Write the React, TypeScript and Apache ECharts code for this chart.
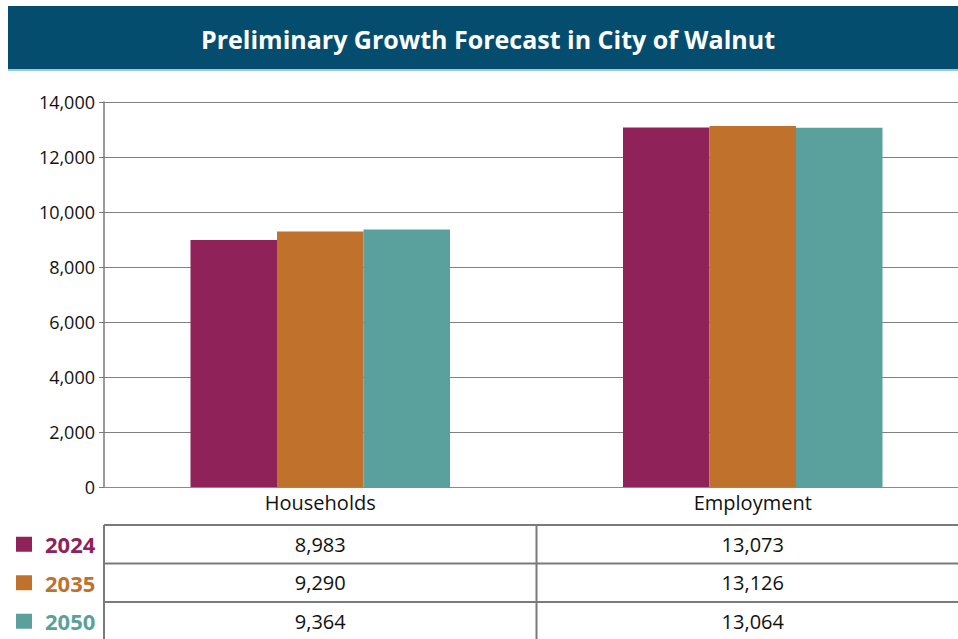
import React, { useEffect, useRef } from "react";
import * as echarts from "echarts";

const title = "Preliminary Growth Forecast in City of Walnut";
const categories = ["Households", "Employment"];
const years = ["2024", "2035", "2050"];
const values2024 = [8983, 13073];
const values2035 = [9290, 13126];
const values2050 = [9364, 13064];
const seriesValues = [values2024, values2035, values2050];
const colors = ["#8e2259", "#c0712b", "#5aa19d"];
const yMin = 0;
const yMax = 14000;
const yStep = 2000;

const FONT = "'Open Sans', 'Noto Sans', sans-serif";
const fmt = (v: number) => v.toLocaleString("en-US");

export default function App() {
  const ref = useRef<HTMLDivElement>(null);
  useEffect(() => {
    if (!ref.current) return;
    const chart = echarts.init(ref.current, undefined, { renderer: "svg" });
    const W = 958;
    const gridLeft = 104;
    const gridTop = 102;
    const gridBottom = 152;
    chart.setOption({
      animation: false,
      backgroundColor: "#ffffff",
      grid: {
        left: gridLeft,
        width: 865,
        top: gridTop,
        bottom: gridBottom,
        containLabel: false,
        outerBoundsMode: "none",
      },
      xAxis: {
        type: "category",
        data: categories,
        axisLine: { lineStyle: { color: "#8a8a8a", width: 1 } },
        axisTick: { alignWithLabel: true, length: 5, lineStyle: { color: "#555" } },
        axisLabel: { color: "#111", fontSize: 20, fontFamily: FONT, margin: 5 },
      },
      yAxis: {
        type: "value",
        min: yMin,
        max: yMax,
        interval: yStep,
        axisLine: { show: true, lineStyle: { color: "#7a7a7a", width: 1.5 } },
        axisTick: { show: true, length: 5, lineStyle: { color: "#7a7a7a" } },
        axisLabel: { color: "#111", fontSize: 18, fontFamily: FONT, margin: 9, formatter: (v: number) => fmt(v) },
        splitLine: { lineStyle: { color: "#808080", width: 1 } },
      },
      series: years.map((y, i) => ({
        name: y,
        type: "bar",
        data: seriesValues[i],
        barGap: "0%",
        barCategoryGap: "40%",
        itemStyle: { color: colors[i] },
      })),
    });

    const cx = categories.map((c) => chart.convertToPixel({ xAxisIndex: 0 }, c) as number);
    const tableTop = 525;
    const rowH = 38.5;
    const lineColor = "#7a7a7a";
    const elements: any[] = [
      { type: "rect", shape: { x: 8, y: 6, width: W - 8, height: 64 }, style: { fill: "#044d6e" } },
      { type: "rect", shape: { x: 8, y: 69, width: W - 8, height: 2 }, style: { fill: "#9cc8dc" } },
      {
        type: "text",
        x: 488,
        y: 39,
        style: {
          text: title,
          fill: "#ffffff",
          font: `bold 25px ${FONT}`,
          align: "center",
          verticalAlign: "middle",
        },
      },
    ];
    const rows = years.length;
    for (let r = 0; r < rows; r++) {
      const y = tableTop + r * rowH;
      elements.push({ type: "line", shape: { x1: gridLeft, y1: y, x2: W, y2: y }, style: { stroke: lineColor, lineWidth: 2 } });
    }
    elements.push({ type: "line", shape: { x1: gridLeft, y1: tableTop, x2: gridLeft, y2: 639 }, style: { stroke: lineColor, lineWidth: 2 } });
    for (let c = 0; c < cx.length - 1; c++) {
      const mx = (cx[c] + cx[c + 1]) / 2;
      elements.push({ type: "line", shape: { x1: mx, y1: tableTop, x2: mx, y2: 639 }, style: { stroke: lineColor, lineWidth: 2 } });
    }
    years.forEach((yr, r) => {
      const yc = tableTop + r * rowH + rowH / 2;
      elements.push({ type: "rect", shape: { x: 16, y: yc - 7.5, width: 16, height: 15 }, style: { fill: colors[r] } });
      elements.push({
        type: "text",
        x: 45,
        y: yc,
        style: { text: yr, fill: colors[r], font: `bold 22px ${FONT}`, align: "left", verticalAlign: "middle" },
      });
      cx.forEach((x, c) => {
        elements.push({
          type: "text",
          x,
          y: yc,
          style: { text: fmt(seriesValues[r][c]), fill: "#111", font: `20px ${FONT}`, align: "center", verticalAlign: "middle" },
        });
      });
    });
    chart.setOption({ graphic: { elements } });
    return () => chart.dispose();
  }, []);
  return <div ref={ref} style={{ position: "absolute", left: 0, top: 0, width: 958, height: 639 }} />;
}
